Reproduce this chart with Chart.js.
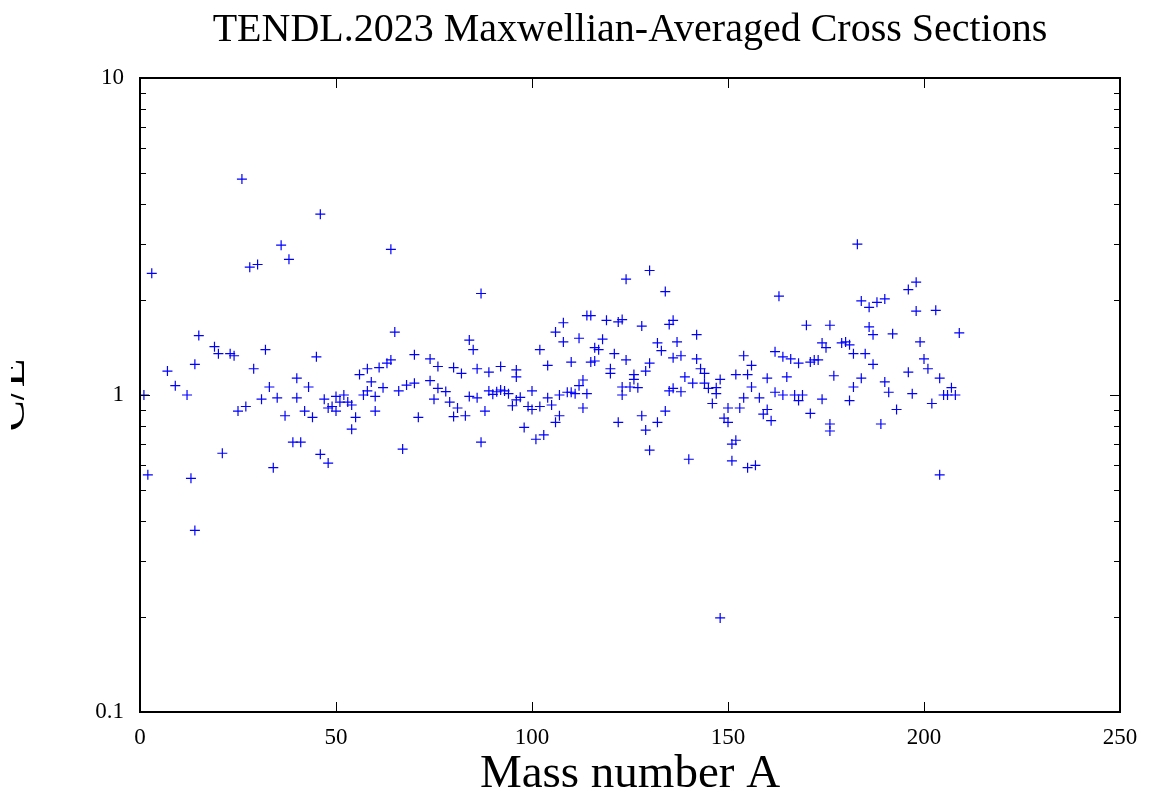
<!DOCTYPE html>
<html><head><meta charset="utf-8">
<script src="https://cdn.jsdelivr.net/npm/chart.js@4.4.1/dist/chart.umd.min.js"></script>
<style>html,body{margin:0;padding:0;background:#fff;}</style>
</head><body>
<canvas id="c" width="1151" height="798"></canvas>
<script>
const massNumber = [
 1,2,3,7,9,12,13,14,14,15,19,20,21,23,24,25,26,27,28,29,30,31,32,33,34,35,36,37,38,39,
 40,40,41,42,43,44,45,46,46,47,48,48,49,50,50,51,52,53,54,54,55,56,57,58,58,59,60,60,61,62,
 63,64,64,65,66,67,68,70,70,71,74,74,75,76,76,78,79,80,80,81,82,83,84,84,85,86,86,87,87,88,
 89,89,90,91,92,92,93,94,95,96,96,96,97,98,99,100,100,101,102,102,103,104,104,105,106,106,107,107,108,108,
 109,110,110,111,112,112,113,113,114,114,115,115,116,116,117,118,119,120,120,121,122,122,123,123,123,124,124,125,126,126,
 127,128,128,129,129,130,130,130,132,132,133,134,134,135,135,136,136,136,137,138,138,139,140,141,142,142,143,144,144,145,
 146,147,147,148,148,149,150,150,151,151,152,152,153,154,154,155,155,156,156,157,158,159,160,160,161,162,162,163,164,164,
 165,166,167,168,168,169,170,171,171,172,173,174,174,175,176,176,176,177,179,180,181,181,182,182,183,184,184,185,186,186,
 187,187,188,189,190,190,191,192,193,196,196,197,198,198,199,200,201,202,203,204,204,205,206,207,208,209
];
const ratio = [
 1.0,0.56,2.42,1.19,1.07,1.0,0.546,1.25,0.374,1.54,1.42,1.35,0.655,1.35,1.33,0.89,4.80,0.92,2.53,1.21,2.58,0.97,1.39,1.06,0.59,0.98,2.97,0.86,2.68,0.71,
 1.13,0.98,0.71,0.89,1.06,0.85,1.32,3.72,0.65,0.97,0.61,0.91,0.92,0.99,0.89,0.95,1.0,0.95,0.93,0.78,0.85,1.16,1.0,1.21,1.03,1.10,0.99,0.89,1.22,1.055,
 1.26,1.29,2.88,1.58,1.03,0.675,1.075,1.09,1.34,0.85,1.30,1.11,0.97,1.23,1.05,1.025,0.95,1.22,0.855,0.91,1.17,0.86,1.49,0.99,1.39,1.21,0.98,2.09,0.71,0.89,
 1.18,1.03,1.005,1.024,1.23,1.037,1.03,1.01,0.925,1.20,1.14,0.965,0.983,0.79,0.92,0.90,1.03,0.725,1.39,0.92,0.748,1.24,0.98,0.93,1.58,0.82,1.0,0.86,1.69,1.47,
 1.02,1.27,1.02,1.01,1.51,1.07,1.115,0.91,1.78,1.01,1.78,1.27,1.28,1.41,1.39,1.50,1.72,1.21,1.17,1.35,1.70,0.82,1.73,1.06,1.0,2.32,1.29,1.06,1.16,1.12,
 1.055,1.65,0.86,1.19,0.775,2.47,1.26,0.67,1.46,0.82,1.38,2.12,0.89,1.67,1.03,1.72,1.31,1.05,1.47,1.33,1.024,1.14,0.627,1.09,1.55,1.30,1.21,1.17,1.09,1.05,
 0.94,1.055,1.01,1.12,0.198,0.845,0.91,0.82,0.70,0.62,1.16,0.72,0.91,1.33,0.98,1.16,0.59,1.24,1.06,0.60,0.98,0.87,1.13,0.90,0.83,1.37,1.02,2.05,1.32,1.0,
 1.14,1.30,1.0,1.26,0.96,1.0,1.66,1.27,0.875,1.29,1.29,1.46,0.97,1.41,1.66,0.81,0.77,1.15,1.46,1.47,1.44,0.96,1.35,1.06,2.99,1.98,1.13,1.35,1.89,1.64,
 1.55,1.25,1.96,0.81,2.01,1.10,1.02,1.56,0.90,2.15,1.18,1.01,2.27,1.84,1.47,1.30,1.21,0.94,1.85,1.13,0.56,1.0,1.0,1.055,1.0,1.57
];
const xTickValues = [0, 50, 100, 150, 200, 250];
const yMajorTicks = [0.1, 1, 10];
const yMinorTicks = [0.2,0.3,0.4,0.5,0.6,0.7,0.8,0.9,2,3,4,5,6,7,8,9];
const titleText = 'TENDL.2023 Maxwellian-Averaged Cross Sections';
const xTitle = 'Mass number A';
const yTitle = 'C/E';

const SERIF = "'Liberation Serif','DejaVu Serif',serif";

const framePlugin = {
  id: 'frame',
  afterDraw(chart) {
    const ctx = chart.ctx;
    const {left, right, top, bottom} = chart.chartArea;
    const xs = chart.scales.x, ys = chart.scales.y;
    ctx.save();
    ctx.strokeStyle = '#000';
    ctx.lineWidth = 1;
    const majorLen = 10, minorLen = 6;
    xTickValues.forEach(v => {
      if (v <= xs.min || v >= xs.max) return;
      const p = Math.round(xs.getPixelForValue(v)) + 0.5;
      ctx.beginPath();
      ctx.moveTo(p, bottom); ctx.lineTo(p, bottom - majorLen);
      ctx.moveTo(p, top); ctx.lineTo(p, top + majorLen);
      ctx.stroke();
    });
    const yTick = (v, len) => {
      const p = Math.round(ys.getPixelForValue(v)) + 0.5;
      ctx.beginPath();
      ctx.moveTo(left, p); ctx.lineTo(left + len, p);
      ctx.moveTo(right, p); ctx.lineTo(right - len, p);
      ctx.stroke();
    };
    yMajorTicks.forEach(v => { if (v > ys.min && v < ys.max) yTick(v, majorLen); });
    yMinorTicks.forEach(v => yTick(v, minorLen));
    ctx.lineWidth = 2;
    ctx.strokeRect(left, top, right - left, bottom - top);
    ctx.restore();
    // y axis title (partly outside the picture, as in the original)
    ctx.save();
    ctx.beginPath();
    ctx.rect(11, 0, 60, chart.height);
    ctx.clip();
    ctx.fillStyle = '#000';
    ctx.font = '47px ' + SERIF;
    ctx.translate(24, (top + bottom) / 2);
    ctx.rotate(-Math.PI / 2);
    ctx.textAlign = 'center';
    ctx.textBaseline = 'alphabetic';
    ctx.fillText(yTitle, 0, 0);
    ctx.restore();
  }
};

new Chart(document.getElementById('c'), {
  type: 'scatter',
  data: {
    datasets: [{
      data: massNumber.map((a, i) => ({x: a, y: ratio[i]})),
      pointStyle: 'cross',
      pointRadius: 5,
      pointHoverRadius: 5,
      borderColor: '#0000ff',
      backgroundColor: '#0000ff',
      borderWidth: 1.2
    }]
  },
  options: {
    responsive: false,
    animation: false,
    devicePixelRatio: 1,
    layout: {padding: {left: 0, right: 31, top: 0, bottom: 0}},
    plugins: {
      legend: {display: false},
      tooltip: {enabled: false},
      title: {
        display: true,
        text: titleText,
        fullSize: false,
        color: '#000',
        font: {family: SERIF, size: 40, weight: 'normal', lineHeight: 1},
        padding: {top: 10, bottom: 28}
      }
    },
    scales: {
      x: {
        type: 'linear',
        min: 0, max: 250,
        afterBuildTicks: s => { s.ticks = xTickValues.map(v => ({value: v})); },
        afterFit: s => { s.height = 86; },
        grid: {display: false, drawTicks: false},
        border: {display: false},
        ticks: {color: '#000', font: {family: SERIF, size: 23}, padding: 12, maxRotation: 0},
        title: {display: true, text: xTitle, color: '#000',
          font: {family: SERIF, size: 47, lineHeight: 1}, padding: {top: 0, bottom: 0}}
      },
      y: {
        type: 'logarithmic',
        min: 0.1, max: 10,
        afterBuildTicks: s => { s.ticks = yMajorTicks.map(v => ({value: v})); },
        afterFit: s => { s.width = 140; },
        grid: {display: false, drawTicks: false},
        border: {display: false},
        ticks: {color: '#000', font: {family: SERIF, size: 23}, padding: 16,
          callback: v => String(v)}
      }
    }
  },
  plugins: [framePlugin]
});
</script>
</body></html>
